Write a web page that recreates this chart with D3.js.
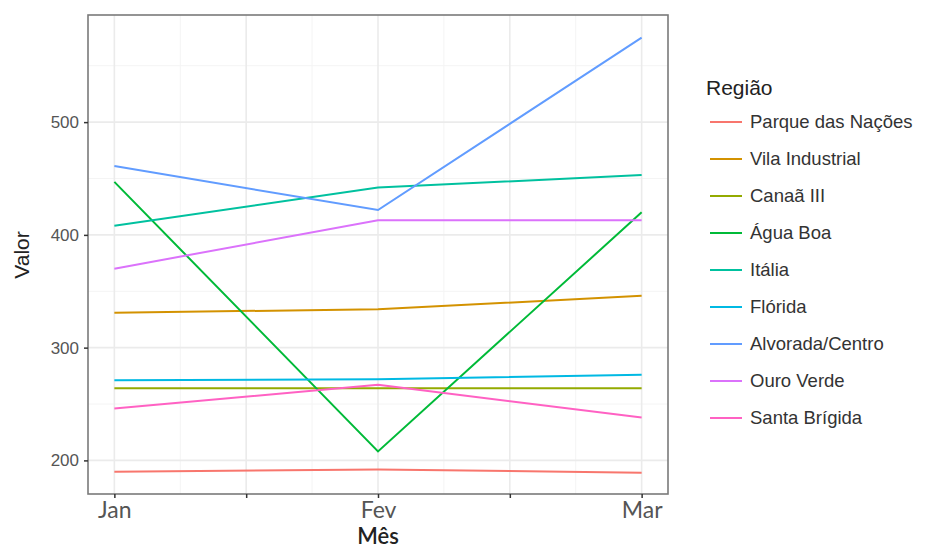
<!DOCTYPE html>
<html>
<head>
<meta charset="utf-8">
<script src="https://cdn.jsdelivr.net/npm/d3@7"></script>
<style>
body{margin:0;background:#fff;}
svg{display:block;}
</style>
</head>
<body>
<svg id="chart" width="928" height="548"></svg>
<script>
const months = ["Jan", "Fev", "Mar"];
const regions = ["Parque das Nações", "Vila Industrial", "Canaã III", "Água Boa", "Itália", "Flórida", "Alvorada/Centro", "Ouro Verde", "Santa Brígida"];
const colors = ["#F8766D", "#D39200", "#93AA00", "#00BA38", "#00C19F", "#00B9E3", "#619CFF", "#DB72FB", "#FF61C3"];
const parqueDasNacoes = [190, 192, 189];
const vilaIndustrial = [331, 334, 346];
const canaaIII = [264, 264, 264];
const aguaBoa = [447, 208, 420];
const italia = [408, 442, 453];
const florida = [271, 272, 276];
const alvoradaCentro = [461, 422, 575];
const ouroVerde = [370, 413, 413];
const santaBrigida = [246, 267, 238];
const seriesValues = [parqueDasNacoes, vilaIndustrial, canaaIII, aguaBoa, italia, florida, alvoradaCentro, ouroVerde, santaBrigida];
const yTicks = [200, 300, 400, 500];
const xTickPositions = [1, 1.5, 2, 2.5, 3];
const xTickLabels = ["Jan", "", "Fev", "", "Mar"];

const svg = d3.select("#chart");
const panel = {left: 88, top: 15, right: 668, bottom: 494};

const x = d3.scaleLinear().domain([0.9, 3.1]).range([panel.left, panel.right]);
const y = d3.scaleLinear().domain([170.2, 595]).range([panel.bottom, panel.top]);

// minor grid
const minorX = [1.25, 1.75, 2.25, 2.75];
const minorY = [250, 350, 450, 550];
const g = svg.append("g");
g.selectAll(".mx").data(minorX).join("line")
  .attr("x1", d => x(d)).attr("x2", d => x(d))
  .attr("y1", panel.top).attr("y2", panel.bottom)
  .attr("stroke", "#f4f4f4").attr("stroke-width", 1);
g.selectAll(".my").data(minorY).join("line")
  .attr("x1", panel.left).attr("x2", panel.right)
  .attr("y1", d => y(d)).attr("y2", d => y(d))
  .attr("stroke", "#f4f4f4").attr("stroke-width", 1);
// major grid
g.selectAll(".gx").data(xTickPositions).join("line")
  .attr("x1", d => x(d)).attr("x2", d => x(d))
  .attr("y1", panel.top).attr("y2", panel.bottom)
  .attr("stroke", "#ebebeb").attr("stroke-width", 1.6);
g.selectAll(".gy").data(yTicks).join("line")
  .attr("x1", panel.left).attr("x2", panel.right)
  .attr("y1", d => y(d)).attr("y2", d => y(d))
  .attr("stroke", "#ebebeb").attr("stroke-width", 1.6);

// lines
const line = d3.line().x((d, i) => x(i + 1)).y(d => y(d));
svg.append("g").selectAll("path").data(seriesValues).join("path")
  .attr("d", d => line(d))
  .attr("fill", "none")
  .attr("stroke", (d, i) => colors[i])
  .attr("stroke-width", 2);

// panel border
svg.append("rect")
  .attr("x", panel.left).attr("y", panel.top)
  .attr("width", panel.right - panel.left).attr("height", panel.bottom - panel.top)
  .attr("fill", "none").attr("stroke", "#7a7a7a").attr("stroke-width", 1.6);

// y axis
const yAxis = d3.axisLeft(y).tickValues(yTicks).tickSize(4).tickPadding(5);
const ya = svg.append("g").attr("transform", `translate(${panel.left},0)`).call(yAxis);
ya.select(".domain").remove();
ya.selectAll(".tick line").attr("stroke", "#333").attr("stroke-width", 1.5);
ya.selectAll("text").attr("fill", "#555").style("font-family", "Liberation Sans, Arial, sans-serif").style("font-size", "17px");

// x axis
const xAxis = d3.axisBottom(x).tickValues(xTickPositions).tickFormat((d, i) => xTickLabels[i]).tickSize(4).tickPadding(4);
const xa = svg.append("g").attr("transform", `translate(0,${panel.bottom})`).call(xAxis);
xa.select(".domain").remove();
xa.selectAll(".tick line").attr("stroke", "#333").attr("stroke-width", 1.5);
xa.selectAll("text").attr("fill", "#555").style("font-family", "Lato, sans-serif").style("font-size", "23px");

// axis titles
svg.append("text").attr("x", 378).attr("y", 544).attr("text-anchor", "middle")
  .style("font-family", "Lato, sans-serif").style("font-size", "22px").style("font-weight", "600")
  .attr("fill", "#222").text("Mês");
svg.append("text").attr("transform", "translate(29,255) rotate(-90)").attr("text-anchor", "middle")
  .style("font-family", "Liberation Sans, Arial, sans-serif").style("font-size", "21px")
  .attr("fill", "#222").text("Valor");

// legend
const leg = svg.append("g");
leg.append("text").attr("x", 706).attr("y", 95)
  .style("font-family", "Liberation Sans, Arial, sans-serif").style("font-size", "21px")
  .attr("fill", "#222").text("Região");
const items = leg.selectAll(".item").data(regions).join("g")
  .attr("transform", (d, i) => `translate(0,${122 + i * 37})`);
items.append("line").attr("x1", 710).attr("x2", 742).attr("y1", 0).attr("y2", 0)
  .attr("stroke", (d, i) => colors[i]).attr("stroke-width", 2);
items.append("text").attr("x", 750).attr("y", 0).attr("dy", "0.35em")
  .style("font-family", "Liberation Sans, Arial, sans-serif").style("font-size", "18.5px")
  .attr("fill", "#333").text(d => d);
</script>
</body>
</html>
